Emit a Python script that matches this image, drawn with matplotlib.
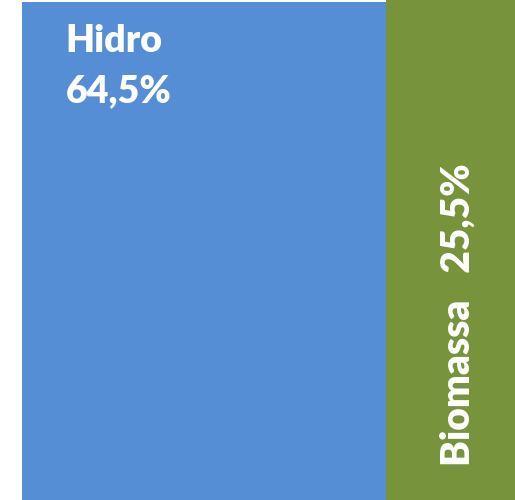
import matplotlib
matplotlib.use("Agg")
import matplotlib.pyplot as plt
from matplotlib.patches import Rectangle

categories = ["Hidro", "Biomassa"]
values = [64.5, 25.5]
labels = ["64,5%", "25,5%"]
colors = ["#558ED5", "#77933C"]

fig = plt.figure(figsize=(5.15, 5.0), dpi=100)
ax = fig.add_axes([0, 0, 1, 1])
ax.set_axis_off()
# visible window of the (cropped) treemap
ax.set_xlim(-3.9, 87.36)
ax.set_ylim(0, 100)

x0 = 0.0
for cat, val, lab, col in zip(categories, values, labels, colors):
    top = 99.6 if cat == "Hidro" else 100
    ax.add_patch(Rectangle((x0, 0), val, top, facecolor=col, edgecolor="none"))
    x0 += val

font = dict(family=["Lato", "DejaVu Sans"], weight="heavy", color="white", fontsize=27)
# Hidro label: top-left
ax.text(7.7, 89.6, categories[0], ha="left", va="baseline", **font)
ax.text(7.7, 79.6, labels[0], ha="left", va="baseline", **font)
# Biomassa label: rotated
font2 = dict(font, fontsize=28)
ax.text(77.3, 37.0, categories[1] + "   " + labels[1], ha="center", va="center",
        rotation=90, **font2)

fig.savefig("out.png", dpi=100)
